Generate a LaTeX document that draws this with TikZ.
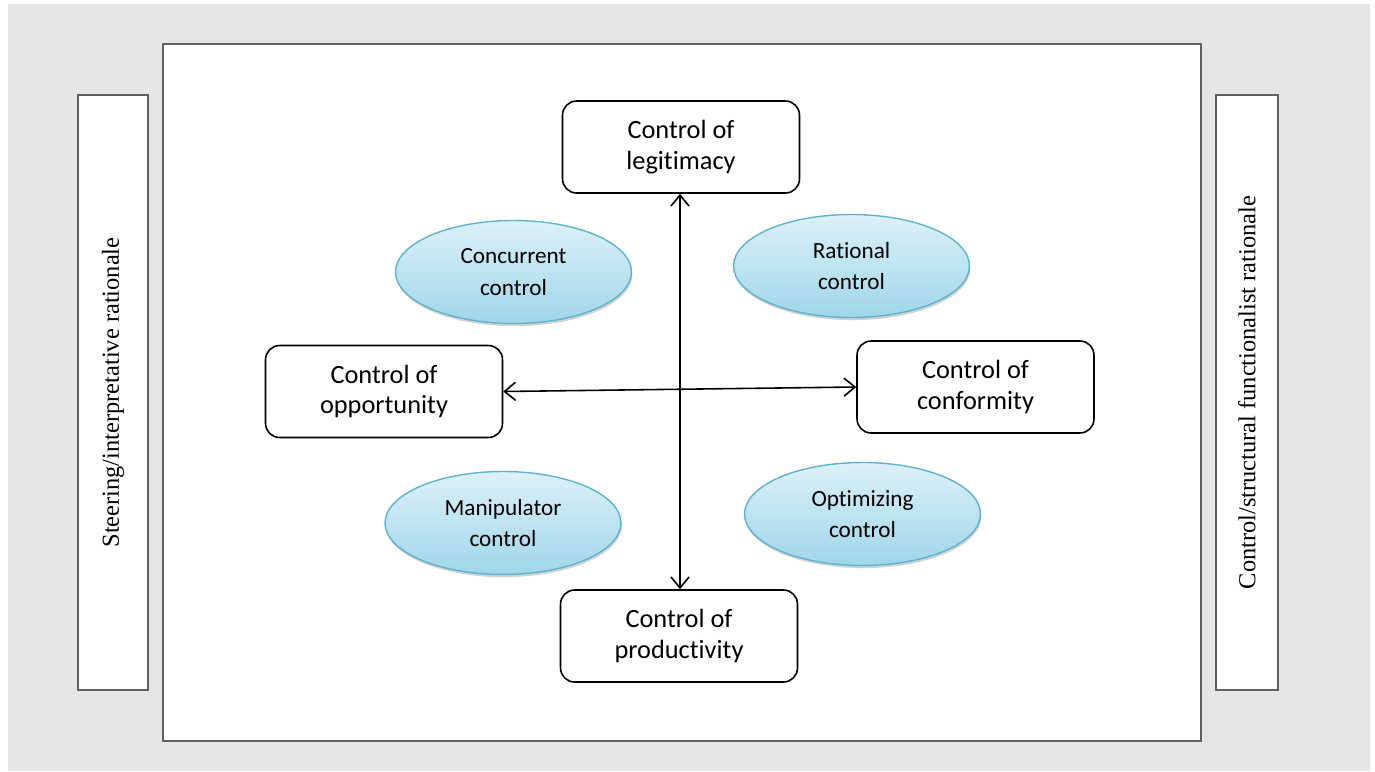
\documentclass[tikz,border=0pt]{standalone}
\usepackage{fontspec}
\setmainfont[Ligatures=NoCommon]{Carlito}
\newfontfamily\sidefont{Liberation Serif}
\usetikzlibrary{positioning,arrows.meta,shapes.geometric,shadows}

\definecolor{pagegray}{HTML}{E6E6E6}
\definecolor{framegray}{HTML}{606060}
\definecolor{ovaltop}{HTML}{DDF1F9}
\definecolor{ovalbottom}{HTML}{9FD6EA}
\definecolor{ovalline}{HTML}{5FB3CE}

\begin{document}
\begin{tikzpicture}[
  x=0.02cm, y=-0.02cm,
  panel/.style={draw=framegray, fill=white, line width=0.8pt},
  sidebox/.style={panel, minimum width=1.4cm, minimum height=11.9cm, inner sep=0pt},
  sidetext/.style={rotate=90, font=\sidefont\fontsize{13.9}{16}\selectfont},
  ctrlbox/.style={draw, rounded corners=8pt, line width=0.9pt, fill=white,
    minimum width=4.74cm, minimum height=1.84cm, align=center,
    font=\fontsize{15}{17.6}\selectfont},
  oval/.style={ellipse, draw=ovalline, line width=0.8pt, top color=ovaltop,
    bottom color=ovalbottom, minimum width=4.72cm, minimum height=2.06cm,
    align=center, font=\fontsize{13.2}{18}\selectfont,
    drop shadow={shadow xshift=0.5pt, shadow yshift=-1.5pt, opacity=0.35}},
  link/.style={{Straight Barb[length=2.2mm,width=3.6mm]}-{Straight Barb[length=2.2mm,width=3.6mm]}, line width=0.9pt}
]
  % page and frames
  \fill[white] (0,0) rectangle (1375,771);
  \fill[pagegray] (8,4) rectangle (1370,771);
  \useasboundingbox (0,0) rectangle (1375,771);
  \draw[panel] (163,44) rectangle (1201,741);

  \node[sidebox] (leftside) at (113,392.5) {};
  \node[sidetext] (lefttext) at (leftside) {Steering/interpretative rationale};
  \node[sidebox, minimum width=1.24cm] (rightside) at (1247,392.5) {};
  \node[sidetext] (righttext) at (rightside) {Control/structural functionalist rationale};

  % the four controls
  \node[ctrlbox] (legit) at (681,147) {Control of\\legitimacy};
  \node[ctrlbox] (oppo) at (384,391.5) {Control of\\opportunity};
  \node[ctrlbox] (conf) at (975.5,387) {Control of\\conformity};
  \node[ctrlbox] (prod) at (679,636) {Control of\\productivity};

  % axes
  \draw[link] (legit.south -| 680,0) -- (prod.north -| 680,0);
  \draw[link] (oppo.east) -- (conf.west);

  % the four modes in the quadrants
  \node[oval] (concur) at (513.5,272) {Concurrent\\control};
  \node[oval] (ration) at (851.5,266) {Rational\\control};
  \node[oval] (manip) at (503,523) {Manipulator\\control};
  \node[oval] (optim) at (862.5,514) {Optimizing\\control};
\end{tikzpicture}
\end{document}
